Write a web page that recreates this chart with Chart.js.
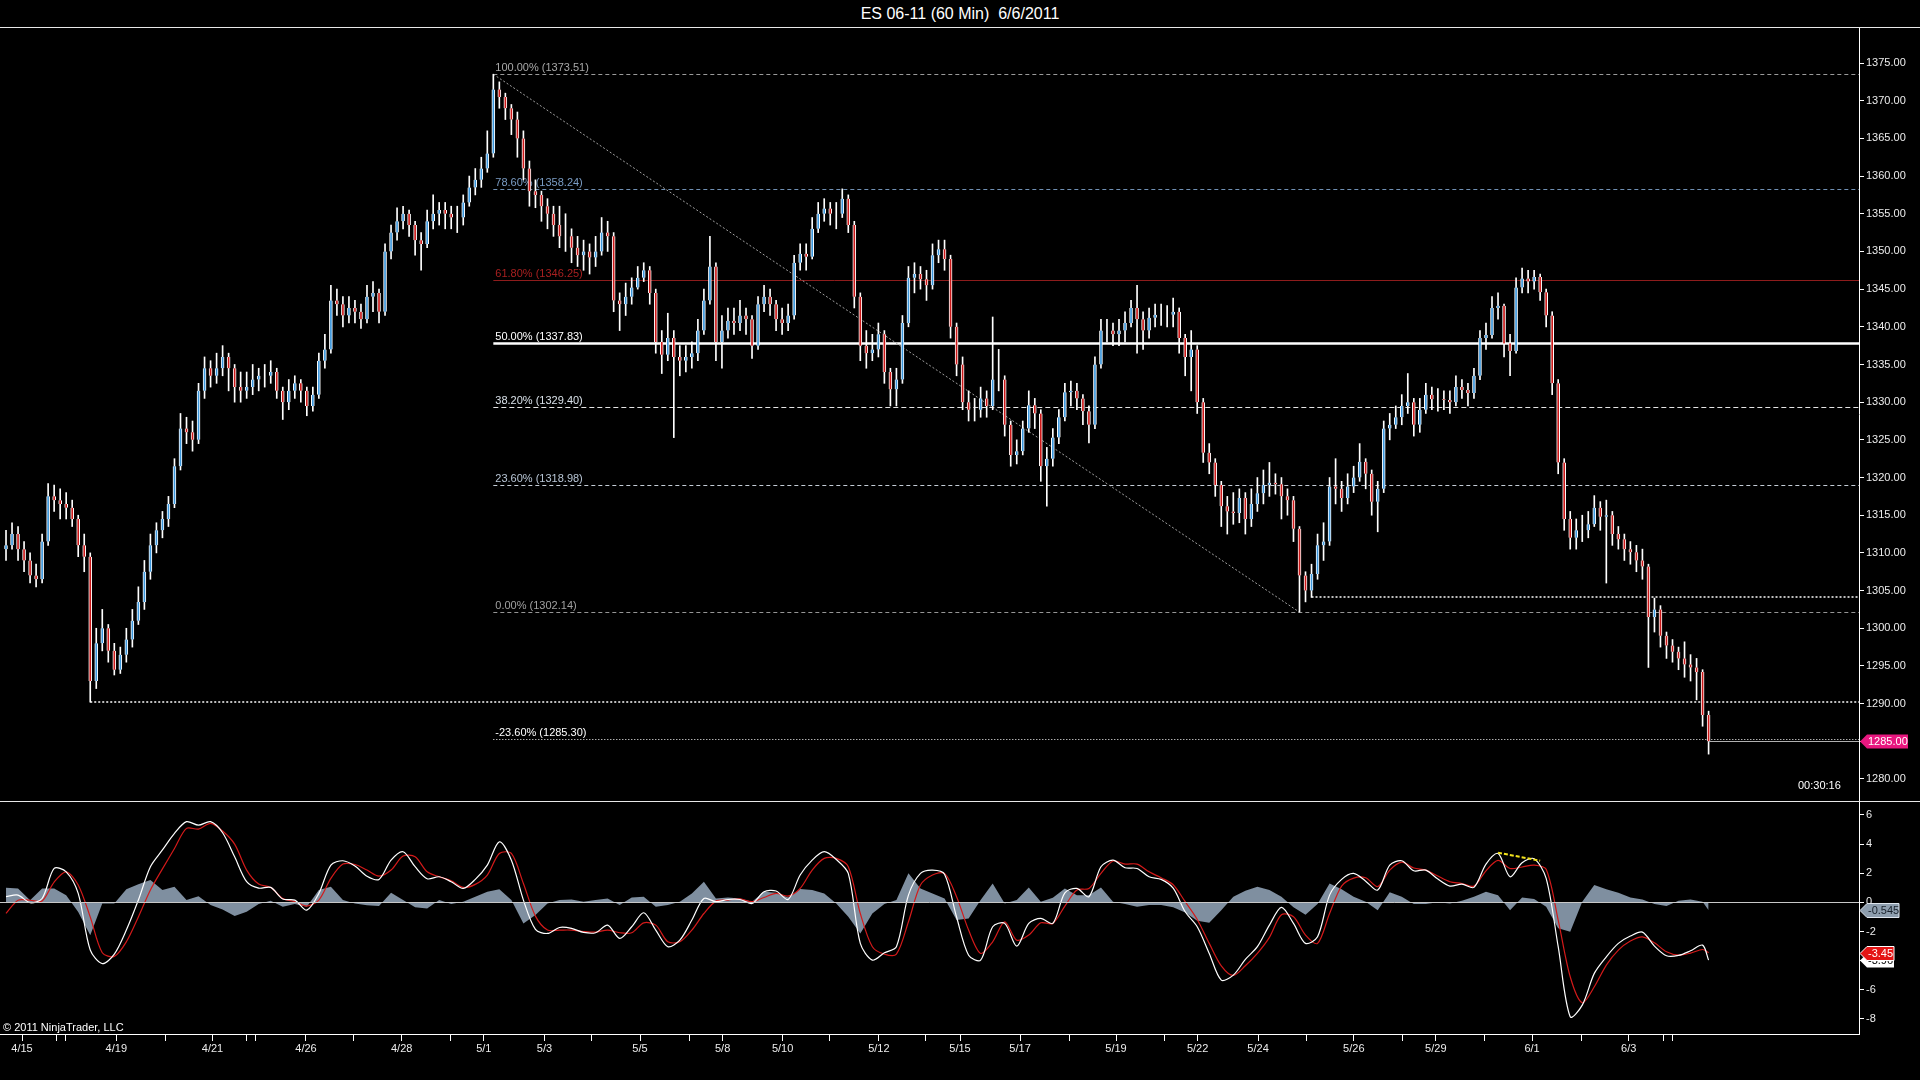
<!DOCTYPE html>
<html><head><meta charset="utf-8">
<script src="https://cdn.jsdelivr.net/npm/chart.js@4.4.1/dist/chart.umd.min.js"></script>
<style>
html,body{margin:0;padding:0;background:#000;width:1920px;height:1080px;overflow:hidden;font-family:"Liberation Sans",Arial,sans-serif;}
#title{position:absolute;left:0;top:4px;width:1920px;text-align:center;color:#fff;font-size:16px;line-height:19px;white-space:pre;}
.hl{position:absolute;left:0;width:1920px;height:1px;background:#e8e8e8;}
#pc{position:absolute;left:0;top:27px;}
#ic{position:absolute;left:0;top:801px;}
.txt{position:absolute;color:#fff;font-size:11px;line-height:13px;white-space:nowrap;}
</style></head><body>
<div id="title">ES 06-11 (60 Min)  6/6/2011</div>
<canvas id="pc" width="1920" height="774"></canvas>
<canvas id="ic" width="1920" height="279"></canvas>
<div class="hl" style="top:27px"></div>
<div class="hl" style="top:801px"></div>
<div class="txt" style="left:1798px;top:779px">00:30:16</div>
<div class="txt" style="left:3px;top:1021px">© 2011 NinjaTrader, LLC</div>
<script>
// ---------------- DATA ----------------
const firstOpen = 1310.5;
const closes = [
1311,1312.5,1310.5,1309,1307,1306.5,1311.5,1317.5,1317,1316.5,
1316,1314.5,1311,1309.5,1293,1298,1300,1297,1294.5,1296.5,
1298.5,1301,1303.5,1307.5,1311,1313,1314.5,1316.5,1321.5,1326.5,
1326,1325,1331.5,1334.5,1333.5,1334.5,1336,1334.5,1332,1331.5,
1332,1333,1333.5,1333.5,1334,1331.5,1330,1331.5,1332.5,1331.5,
1329.5,1331,1335.5,1337,1343.5,1343,1341.5,1342.5,1342,1341,
1344,1344.5,1342,1350,1352.5,1354,1355,1353.5,1351.5,1351,
1354,1355,1355.5,1355,1354.5,1354.5,1356.5,1358.5,1359.5,1361,
1363,1371.5,1370.5,1369,1367.5,1365,1361,1358,1357.5,1356,
1355,1353.5,1352,1352,1350.5,1349.5,1350,1349.2,1350,1352.5,
1352,1343.5,1343,1344,1345.2,1346.5,1347.5,1344.5,1338,1336.3,
1338.5,1336,1335.5,1336,1336.5,1339.5,1343.5,1348,1338,1339.5,
1340.8,1340.5,1341.5,1341,1337.5,1343,1344,1343,1341,1340.5,
1341.5,1348.5,1349.7,1349.3,1353,1355,1355.7,1355,1355,1357,
1353.5,1344,1337.5,1336.5,1337,1339,1334,1331.7,1333,1340.5,
1346.5,1347,1346.3,1345.5,1349.5,1350.3,1349,1340,1335,1330,
1329,1329,1330.5,1329.5,1333,1333,1327,1323,1323.5,1326.5,
1329.6,1328.5,1321.5,1322.5,1325.3,1328,1331.3,1331.5,1330.5,1328.8,
1327,1335,1339.5,1339.5,1339,1339.5,1340.5,1342.5,1341,1339.5,
1341.2,1341.6,1341.6,1341.6,1342,1338.5,1336,1337,1330,1323.3,
1322,1319,1316.2,1315.5,1315.3,1317.3,1314.5,1316.5,1317.9,1319,
1319.3,1319.1,1317.5,1317,1313.2,1307,1305,1307.2,1311,1311.5,
1318.8,1318.5,1317.3,1318.8,1320,1322.1,1320.5,1316.8,1318.5,1326.5,
1327,1328,1329.5,1330,1327,1329,1331,1330.4,1330.4,1330.3,
1330,1332,1331.6,1331.2,1333.5,1338.5,1338.9,1342.5,1342.8,1337.8,
1336.8,1345.2,1346.4,1346,1346.6,1344.6,1341.5,1332.5,1322,1314.5,
1312,1313,1313,1313.8,1316,1314.8,1315,1312.5,1311.8,1310.5,
1310.1,1309,1308.2,1301.5,1302.5,1299,1297.7,1296.9,1296,1295.2,
1294.8,1294.2,1288.5,1285];
const highs = [
1313,1314,1313.5,1311.5,1310,1308.5,1312.5,1319.2,1319,1318.5,
1318,1317,1315,1312.5,1310,1300,1302.5,1300.5,1298,1297.5,
1300,1302.5,1305.5,1309,1312.5,1314,1315.5,1317.5,1322.5,1328.5,
1328,1327.5,1332.5,1336,1335.5,1336.5,1337.5,1336.5,1335,1334,
1334,1335,1334.5,1335,1335.5,1334.5,1332,1333,1333.5,1333,
1332,1332,1336.5,1339,1345.5,1345,1344,1344,1343.5,1343,
1345.5,1346,1345,1351,1353.5,1355.8,1356,1355.5,1354,1352.5,
1355.5,1357.5,1356.5,1356.5,1356,1356,1357.5,1360,1361,1362.5,
1366,1373.51,1372.5,1371,1369.5,1368.5,1366,1362,1359.5,1358,
1357,1356,1356,1355,1353,1352,1351.5,1351,1352,1354.5,
1354,1352.5,1344.5,1345.8,1346.5,1348,1348.5,1348,1345,1339.5,
1341.8,1339.5,1337.5,1337.5,1338,1341,1345,1352,1348.5,1341.5,
1342.5,1342.5,1343.5,1342.5,1341.5,1344,1345.5,1345,1343.5,1342.5,
1343,1349.5,1351,1351,1354.5,1356.5,1357,1356.5,1356.5,1358.3,
1357.5,1354,1344.5,1339.5,1339,1340.5,1339.5,1334.5,1334.5,1341.5,
1348,1348.5,1348,1347.5,1351,1351.5,1351.5,1349.5,1340.5,1336,
1331.5,1330.5,1332,1331.5,1341.3,1337,1333.5,1327.5,1325,1327.5,
1331.5,1330.5,1329,1324,1326.5,1329,1332.5,1332.8,1332.5,1331,
1329.5,1336,1341,1341,1340.5,1341,1342,1343.5,1345.5,1342,
1342.5,1343,1343,1342.8,1343.8,1342.5,1339,1339.5,1337.5,1330.5,
1324.5,1322.5,1319.5,1317.5,1318,1318.5,1318,1318.5,1320,1321,
1322,1320.5,1320,1318.5,1317.5,1313.5,1307.5,1308.5,1312.5,1314,
1320,1322.5,1319.5,1320.5,1321.5,1324.5,1322.5,1321,1319.5,1327.5,
1328.5,1329.5,1331,1333.8,1330.5,1330.5,1332.5,1332,1331.8,1331.5,
1331.5,1333.5,1333,1332.5,1334.5,1339.5,1340.5,1344,1344.5,1343,
1339,1346.5,1347.8,1347.5,1347.5,1347,1345,1342,1333,1322.5,
1315.5,1314.5,1315,1315.5,1317.6,1316.8,1317,1315.5,1313.5,1312.5,
1311.5,1311,1310.5,1308.5,1304,1303,1299.5,1298.5,1297.5,1298.2,
1296.5,1296,1294.5,1289];
const lows = [
1309,1310.5,1309,1307.5,1306,1305.5,1306,1311,1315.5,1314.5,
1314.5,1313.5,1309.5,1307.5,1290.2,1292,1297,1295.5,1293.8,1294,
1295.5,1297.5,1300.5,1302.5,1306.5,1310,1312,1313.5,1316,1321,
1324.5,1323.5,1324.5,1330.5,1332,1332.5,1333.5,1331.5,1330,1330,
1330.5,1331,1331.5,1332,1332.5,1330.5,1327.7,1329,1330.5,1330,
1328.2,1328.8,1330.5,1334.5,1336.5,1341.5,1340,1340.5,1340.5,1339.8,
1340.5,1342,1340.5,1341.5,1349,1351.5,1353,1352,1349.5,1347.5,
1350.5,1353,1353.5,1353,1353,1352.5,1353.5,1356,1357.5,1358.5,
1360.5,1362.5,1369,1367.5,1365.5,1362.5,1359.5,1356,1355.8,1354,
1353,1352,1350.5,1350,1348.5,1348,1347.5,1347,1348,1349.5,
1350,1342,1339.5,1341.5,1343,1345,1346,1343,1336.5,1333.8,
1335.5,1325.3,1333.5,1334,1334.5,1335.5,1339,1343,1335.5,1334.5,
1338.5,1339,1339.5,1339,1335.8,1337,1342,1341.5,1339.5,1339,
1339.5,1341,1347.5,1347.5,1349,1352.5,1354,1353.5,1353,1354.5,
1352.5,1342.5,1335.5,1334.5,1335.5,1336,1332.5,1329.5,1329.5,1332.5,
1340,1344.5,1345,1343.5,1345,1348.5,1347.5,1338.5,1333.5,1329,
1327.5,1327.5,1328,1328,1329,1331.5,1325.5,1321.5,1321.8,1323,
1326,1326.5,1319.5,1316.2,1321.5,1324.5,1327.5,1329.5,1329,1327,
1324.6,1326.5,1334.5,1338,1337.5,1337.5,1338,1340,1336.5,1337,
1338.5,1340,1340.2,1340,1340,1336.5,1333.5,1331.5,1328.5,1322,
1320.5,1317.5,1313.5,1312.5,1313.8,1314,1312.5,1313.5,1315.5,1316.5,
1317.5,1317.8,1314.5,1315,1311.5,1302.14,1303.5,1304.1,1306.5,1309,
1311,1316.5,1315.5,1316.5,1318,1319.5,1318.5,1315,1312.8,1318,
1325,1326.5,1327,1328.5,1325.5,1326,1328.5,1329,1328.8,1329,
1328.5,1329.5,1330.5,1329.5,1330.5,1333,1337,1338.5,1341,1336,
1333.5,1336.5,1344.5,1344.5,1345,1343.5,1340,1331,1320.5,1313,
1310.5,1310.5,1311.5,1312,1313.5,1313,1306,1311,1310.5,1309,
1308.5,1307.5,1306.5,1294.8,1299.5,1297.5,1296,1295.5,1294.5,1293.5,
1293,1290.5,1287,1283.3];

// indicator, one value every indStep bars (last value = last bar)
const indStep = 2;
const macdLine = [
0.4,0.5,-0.02,0.27,2.33,2.1,0.62,-3.27,-4.2,-3.55,
-1.9,0.16,2.45,3.6,4.74,5.54,5.3,5.54,4.78,3.13,
1.42,0.98,1.03,0.23,0.16,-0.53,0.62,2.56,2.86,2.5,
1.8,1.58,2.9,3.48,2.45,1.62,1.76,1.42,0.96,1.58,
2.56,4.16,2.9,0.16,-1.85,-2.13,-1.72,-1.78,-2.06,-2.08,
-1.56,-2.47,-1.67,-0.71,-1.9,-3.04,-2.59,-1.21,0.27,0.05,
0.2,0.2,-0.07,0.73,0.78,0.2,1.88,2.9,3.48,2.95,
1.99,-2.81,-3.96,-3.46,-3.04,0.5,1.99,2.22,1.94,-1.0,
-3.62,-3.96,-1.67,-1.44,-3.0,-1.44,-1.1,-1.44,0.66,0.96,
0.39,2.45,2.9,2.38,2.33,1.76,1.58,0.98,-0.64,-1.67,
-3.5,-5.33,-4.99,-3.91,-3.04,-1.56,-0.34,-1.44,-2.81,-2.36,
0.5,1.58,1.99,1.46,0.85,2.56,2.86,2.17,2.22,1.6,
1.12,1.26,1.03,2.63,3.36,1.76,2.72,3.0,1.65,-3.04,
-7.85,-7.05,-4.87,-3.73,-2.81,-2.31,-2.04,-3.0,-3.66,-3.64,
-3.32,-2.93,-3.96];
const signalLine = [
-0.75,0.15,0.15,0.1,1.4,2.1,1.2,-1.0,-3.45,-3.7,
-2.7,-1.0,0.85,2.3,3.7,5.08,5.03,5.42,4.9,4.0,
2.22,1.26,1.03,0.27,0.05,-0.25,0.16,1.65,2.63,2.6,
2.22,1.8,2.22,3.18,3.13,2.1,1.76,1.49,1.03,1.24,
1.88,3.36,3.36,1.3,-0.94,-1.9,-1.9,-1.9,-2.0,-2.04,
-1.9,-2.08,-2.08,-1.4,-1.56,-2.7,-2.7,-1.9,-0.76,0.09,
0.16,0.25,0.05,0.34,0.62,0.43,0.96,2.22,3.02,3.02,
2.45,-0.76,-3.04,-3.55,-3.55,-1.33,1.19,1.88,1.99,0.39,
-1.9,-3.5,-2.7,-1.33,-2.59,-2.24,-1.4,-1.44,-0.25,0.85,
0.96,1.99,2.84,2.63,2.63,2.1,1.69,1.21,0.05,-1.17,
-2.81,-4.35,-5.01,-4.35,-3.5,-2.4,-0.85,-0.98,-2.24,-2.81,
-0.76,1.12,1.67,1.69,1.08,2.22,2.77,2.36,2.22,1.81,
1.42,1.3,1.12,2.17,2.88,2.33,2.43,2.56,2.27,-1.21,
-5.1,-6.89,-5.79,-4.3,-3.27,-2.65,-2.36,-2.77,-3.39,-3.62,
-3.48,-3.23,-3.45];
const histValues = [
1.0,0.95,0.15,0.95,0.95,0.5,-0.65,-2.25,-0.07,-0.07,
0.9,1.25,1.53,0.85,1.08,0.16,0.43,-0.18,-0.48,-0.94,
-0.64,-0.1,0.11,-0.3,-0.1,-0.3,0.85,1.08,0.16,-0.07,
-0.2,-0.25,0.66,0.16,-0.34,-0.41,0.16,-0.1,0.05,0.39,
0.73,0.9,0.16,-1.44,-0.87,-0.07,0.16,0.2,0.05,0.16,
0.27,-0.18,0.34,0.39,-0.3,-0.18,0.05,0.62,1.42,0.27,
0.34,0.27,0.05,0.73,0.66,0.34,0.92,0.85,0.62,-0.07,
-0.98,-2.13,-0.76,-0.1,0.16,2.0,0.96,0.62,0.27,-1.21,
-1.1,0.16,1.3,-0.07,0.16,1.03,0.05,0.32,0.96,0.5,
0.5,1.03,0.05,-0.1,-0.3,-0.18,-0.18,-0.34,-0.69,-1.26,
-1.4,-0.53,0.39,0.8,1.08,0.85,0.39,-0.34,-0.85,-0.1,
1.3,0.9,0.39,0.05,-0.53,0.69,0.39,-0.1,-0.1,0.02,
-0.07,0.11,0.39,0.73,0.5,-0.53,0.34,0.23,-0.3,-1.78,
-2.01,0.05,1.19,0.9,0.66,0.34,0.2,-0.1,-0.25,0.11,
0.2,0.05,-0.545];

// time axis ticks (positions in bar units) and labels
const dateTickPos = [2.66,8.31,9.89,18.33,26.48,34.32,39.89,41.55,49.86,57.84,65.77,73.8,79.42,89.49,97.32,105.38,113.53,119.11,129.09,136.93,145.08,152.9,158.57,168.55,176.69,184.5,192.5,198.07,208.11,216.19,224.03,232.05,237.66,245.8,253.66,261.8,269.73,275.43,276.93];
const dateTickLabels = ["4/15","","","4/19","","4/21","","","4/26","","4/28","","5/1","5/3","","5/5","","5/8","5/10","","5/12","","5/15","5/17","","5/19","","5/22","5/24","","5/26","","5/29","","6/1","","6/3","",""];
const priceTicks = [1280,1285,1290,1295,1300,1305,1310,1315,1320,1325,1330,1335,1340,1345,1350,1355,1360,1365,1370,1375];
const indTicks = [-8,-6,-4,-2,0,2,4,6];

// Fibonacci retracement drawn from bar 81 (high) to bar 215 (low)
const fibHighBar = 81, fibLowBar = 215;
const fibPct = [100, 78.6, 61.8, 50, 38.2, 23.6, 0, -23.6];
const fibPrice = [1373.51, 1358.24, 1346.25, 1337.83, 1329.40, 1318.98, 1302.14, 1285.30];
// support lines: start bar and price
const supportBars = [14, 217];
const supportPrices = [1290.2, 1304.1];
// divergence segment in indicator
const divBars = [248, 255];
const divValues = [3.41, 2.86];

// ---------------- STYLE ----------------
const FONT = '"Liberation Sans", Arial, sans-serif';
Chart.defaults.font.family = FONT;
Chart.defaults.font.size = 11;
const UP = '#3a96dc', DN = '#cc1818';
const fibLineColor = ['#9a9a9a','#7090b4','#8e1c1c','#ffffff','#e4e4e4','#c4ccd6','#959595','#ffffff'];
const fibTextColor = ['#a8a8a8','#7a9cc4','#a82020','#ffffff','#d8e0e8','#b8c6d6','#a0a0a0','#ffffff'];
const fibWidth = [1,1,1,2.5,1,1,1,1];
const fibDash = [[4,3],[4,3],[],[],[5,3],[4,3],[4,3],[1,2]];
const xMin = -1, xMax = 308;
const lastBar = closes.length - 1;
const opens = closes.map((c,i)=> i === 0 ? firstOpen : closes[i-1]);

function fixV(s){ s.width = 61; s.paddingTop = 0; s.paddingBottom = 0; }

function tag(ctx, x, y, w, fill, stroke, text, tcol){
  ctx.beginPath();
  ctx.moveTo(x, y); ctx.lineTo(x+7, y-7); ctx.lineTo(x+w, y-7); ctx.lineTo(x+w, y+7); ctx.lineTo(x+7, y+7); ctx.closePath();
  ctx.fillStyle = fill; ctx.fill();
  if (stroke){ ctx.strokeStyle = stroke; ctx.lineWidth = 1; ctx.stroke(); }
  ctx.fillStyle = tcol; ctx.font = '11px ' + FONT; ctx.textBaseline = 'middle'; ctx.textAlign = 'left';
  ctx.fillText(text, x+8, y+0.5);
}

const pricePlugin = {
  id: 'pricePlugin',
  beforeDatasetsDraw(chart){
    const {ctx, chartArea: a, scales: {x, y}} = chart;
    ctx.save();
    const fx = x.getPixelForValue(fibHighBar);
    ctx.font = '11px ' + FONT; ctx.textBaseline = 'middle'; ctx.textAlign = 'left';
    fibPrice.forEach((p, k) => {
      const yy = Math.round(y.getPixelForValue(p)) + 0.5;
      ctx.strokeStyle = fibLineColor[k]; ctx.lineWidth = fibWidth[k]; ctx.setLineDash(fibDash[k]);
      ctx.beginPath(); ctx.moveTo(fx, yy); ctx.lineTo(a.right, yy); ctx.stroke();
      ctx.setLineDash([]);
      ctx.fillStyle = fibTextColor[k];
      ctx.fillText(fibPct[k].toFixed(2) + '% (' + p.toFixed(2) + ')', fx + 2, yy - 7);
    });
    // diagonal
    ctx.strokeStyle = '#a0a0a0'; ctx.lineWidth = 1; ctx.setLineDash([2,2]);
    ctx.beginPath();
    ctx.moveTo(fx, y.getPixelForValue(fibPrice[0]));
    ctx.lineTo(x.getPixelForValue(fibLowBar), y.getPixelForValue(fibPrice[6]));
    ctx.stroke();
    // support dotted lines
    ctx.strokeStyle = '#bdbdbd'; ctx.lineWidth = 2; ctx.setLineDash([2,2]);
    supportBars.forEach((b, k) => {
      const yy = Math.round(y.getPixelForValue(supportPrices[k]));
      ctx.beginPath(); ctx.moveTo(x.getPixelForValue(b), yy); ctx.lineTo(a.right, yy); ctx.stroke();
    });
    ctx.restore();
  },
  afterDraw(chart){
    const {ctx, chartArea: a, scales: {x, y}} = chart;
    ctx.save();
    const last = closes[lastBar];
    const yy = Math.round(y.getPixelForValue(last)) + 0.5;
    ctx.strokeStyle = '#b0b0b0'; ctx.lineWidth = 1;
    ctx.beginPath(); ctx.moveTo(x.getPixelForValue(lastBar), yy); ctx.lineTo(a.right, yy); ctx.stroke();
    tag(ctx, a.right + 1, yy, 48, '#e8177f', null, last.toFixed(2), '#ffffff');
    ctx.restore();
  }
};

const indPlugin = {
  id: 'indPlugin',
  afterDatasetsDraw(chart){
    const {ctx, chartArea: a, scales: {x, y}} = chart;
    ctx.save();
    const y0 = Math.round(y.getPixelForValue(0)) + 0.5;
    ctx.strokeStyle = '#c8c8c8'; ctx.lineWidth = 1;
    ctx.beginPath(); ctx.moveTo(a.left, y0); ctx.lineTo(a.right, y0); ctx.stroke();
    ctx.strokeStyle = '#f2e21c'; ctx.lineWidth = 2; ctx.setLineDash([4,2]);
    ctx.beginPath();
    ctx.moveTo(x.getPixelForValue(divBars[0]), y.getPixelForValue(divValues[0]));
    ctx.lineTo(x.getPixelForValue(divBars[1]), y.getPixelForValue(divValues[1]));
    ctx.stroke();
    ctx.restore();
  },
  afterDraw(chart){
    const {ctx, chartArea: a, scales: {y}} = chart;
    ctx.save();
    const n = histValues.length - 1;
    tag(ctx, a.right + 1, Math.round(y.getPixelForValue(histValues[n])) + 0.5, 39, '#8e9eae', '#dfe6ee', String(histValues[n]), '#17202a');
    tag(ctx, a.right + 1, Math.round(y.getPixelForValue(macdLine[n])) + 0.5, 34, '#ffffff', null, macdLine[n].toFixed(2), '#000000');
    tag(ctx, a.right + 1, Math.round(y.getPixelForValue(signalLine[n])) + 0.5, 34, '#e41414', '#ffffff', signalLine[n].toFixed(2), '#ffffff');
    ctx.restore();
  }
};

// ---------------- PRICE CHART ----------------
new Chart(document.getElementById('pc'), {
  type: 'bar',
  data: { datasets: [
    { label: 'body', data: closes.map((c,i)=>({x:i, y:[opens[i], c]})),
      backgroundColor: closes.map((c,i)=> c >= opens[i] ? UP : DN),
      borderColor: '#ffffff', borderWidth: {left:1, right:1, top:0, bottom:0}, borderSkipped: false,
      barThickness: 3, grouped: false, order: 0 },
    { label: 'wick', data: highs.map((h,i)=>({x:i, y:[lows[i], h]})),
      backgroundColor: '#ffffff', borderWidth: 0, barThickness: 1, grouped: false, order: 1 }
  ]},
  options: {
    responsive: false, animation: false, devicePixelRatio: 1, events: [],
    layout: { padding: 0 },
    plugins: { legend: {display:false}, tooltip: {enabled:false}, title: {display:false} },
    scales: {
      x: { type: 'linear', min: xMin, max: xMax, display: false, offset: false, grid: {offset: false} },
      y: { position: 'right', min: 1277.08, max: 1379.78,
        afterBuildTicks: s => { s.ticks = priceTicks.map(v=>({value:v})); },
        afterFit: fixV,
        ticks: { color: '#ececec', padding: 2, callback: v => Number(v).toFixed(2), font: {size: 11} },
        grid: { drawOnChartArea: false, drawTicks: true, tickLength: 5, color: '#ffffff' },
        border: { display: true, color: '#ffffff' } }
    }
  },
  plugins: [pricePlugin]
});

// ---------------- INDICATOR CHART ----------------
const pt = arr => arr.map((v,j)=>({x: Math.min(j*indStep, lastBar), y: v}));
new Chart(document.getElementById('ic'), {
  type: 'line',
  data: { datasets: [
    { label: 'macd', data: pt(macdLine), borderColor: '#ffffff', borderWidth: 1.2, pointRadius: 0, tension: 0.3, fill: false, order: 0 },
    { label: 'signal', data: pt(signalLine), borderColor: '#d41a1a', borderWidth: 1.2, pointRadius: 0, tension: 0.3, fill: false, order: 1 },
    { label: 'hist', data: pt(histValues), borderColor: 'rgba(0,0,0,0)', borderWidth: 0, backgroundColor: '#7f8fa0', pointRadius: 0, tension: 0, fill: 'origin', order: 2 }
  ]},
  options: {
    responsive: false, animation: false, devicePixelRatio: 1, events: [],
    layout: { padding: 0 },
    plugins: { legend: {display:false}, tooltip: {enabled:false} },
    scales: {
      x: { type: 'linear', min: xMin, max: xMax, position: 'bottom', offset: false,
        afterBuildTicks: s => { s.ticks = dateTickPos.map(v=>({value:v})); },
        afterFit: s => { s.height = 46; s.paddingLeft = 0; s.paddingRight = 0; },
        ticks: { color: '#ececec', padding: 1, autoSkip: false, maxRotation: 0, minRotation: 0,
          callback: (v, i) => dateTickLabels[i], font: {size: 11} },
        grid: { drawOnChartArea: false, drawTicks: true, tickLength: 7, color: '#ffffff' },
        border: { display: true, color: '#ffffff' } },
      y: { position: 'right', min: -9.03, max: 6.96,
        afterBuildTicks: s => { s.ticks = indTicks.map(v=>({value:v})); },
        afterFit: fixV,
        ticks: { color: '#ececec', padding: 2, callback: v => String(v), font: {size: 11} },
        grid: { drawOnChartArea: false, drawTicks: true, tickLength: 5, color: '#ffffff' },
        border: { display: true, color: '#ffffff' } }
    }
  },
  plugins: [indPlugin]
});
</script>
</body></html>
